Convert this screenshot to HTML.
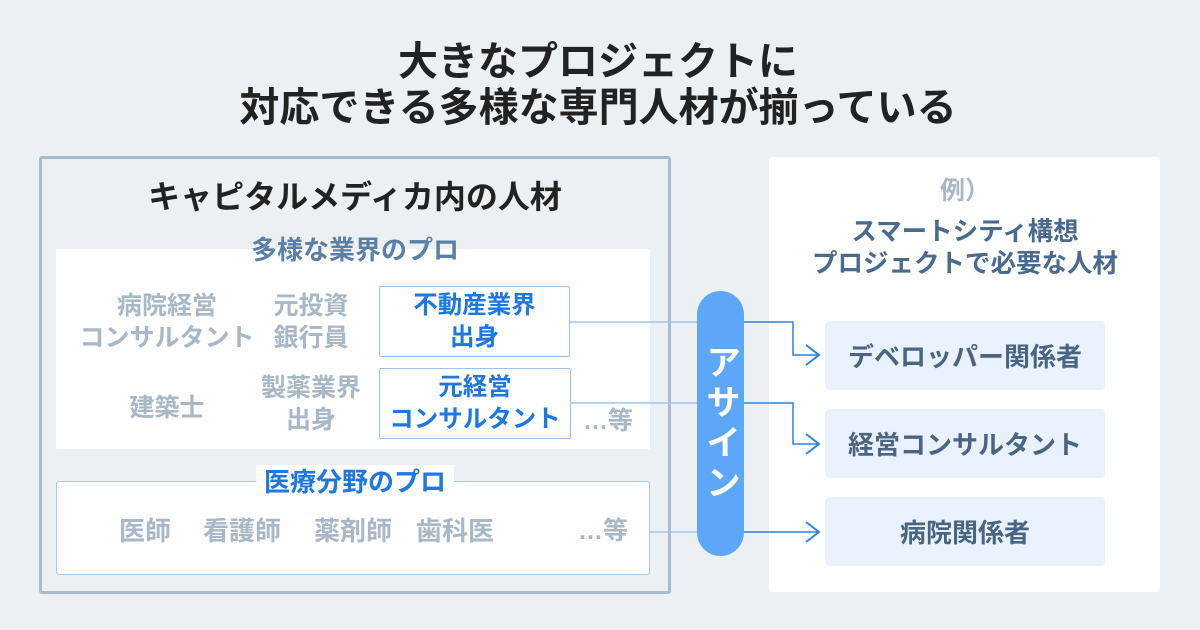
<!DOCTYPE html>
<html><head><meta charset="utf-8"><style>
*{margin:0;padding:0;box-sizing:border-box}
body{width:1200px;height:630px;background:#ecf0f2;position:relative;overflow:hidden;font-family:"Liberation Sans","Noto Sans CJK JP",sans-serif;font-weight:bold}
.a{position:absolute}
.c{position:absolute;text-align:center;white-space:nowrap;transform:translateX(-50%)}
.g{color:#a9b8c6;font-size:25px;line-height:32px;font-weight:bold}
.bx{position:absolute;background:#fff;border:1.5px solid #9cc3ec;border-radius:2px;color:#1f78e0;font-size:24.5px;line-height:32px;text-align:center;display:flex;flex-direction:column;justify-content:center}
.r{position:absolute;left:825px;width:280px;height:69px;background:#e9f2fc;border-radius:4px;color:#4a6582;font-size:26px;display:flex;align-items:center;justify-content:center}
</style></head><body>
<div class="c" style="left:598px;top:39px;font-size:40px;line-height:46px;color:#222">大きなプロジェクトに<br>対応できる多様な専門人材が揃っている</div>

<div class="a" style="left:39px;top:156px;width:632px;height:438px;border:3px solid #a9bccb;border-radius:3px"></div>
<div class="c" style="left:355px;top:177px;font-size:32px;line-height:40px;color:#222">キャピタルメディカ内の人材</div>
<div class="a" style="left:56px;top:249px;width:594px;height:200px;background:#fff;border-radius:2px"></div>
<div class="c" style="left:355px;top:233px;font-size:26px;line-height:34px;color:#5b7fa6">多様な業界のプロ</div>
<div class="c g" style="left:167px;top:290px">病院経営<br>コンサルタント</div>
<div class="c g" style="left:311px;top:290px">元投資<br>銀行員</div>
<div class="c g" style="left:167px;top:392px">建築士</div>
<div class="c g" style="left:311px;top:372px">製薬業界<br>出身</div>
<div class="c g" style="left:608px;top:405px">…等</div>
<div class="bx" style="left:379px;top:286px;width:191px;height:71px">不動産業界<br>出身</div>
<div class="bx" style="left:379px;top:368px;width:192px;height:71px">元経営<br>コンサルタント</div>

<div class="a" style="left:56px;top:481px;width:594px;height:94px;background:#fff;border:1.5px solid #a8c9ef;border-radius:3px"></div>
<div class="c" style="left:355px;top:465px;font-size:26px;line-height:34px;color:#1f78e0;background:#fff;padding:0 8px">医療分野のプロ</div>
<div class="c g" style="left:145px;top:515px;font-size:26px">医師</div>
<div class="c g" style="left:242px;top:515px;font-size:26px">看護師</div>
<div class="c g" style="left:353px;top:515px;font-size:26px">薬剤師</div>
<div class="c g" style="left:455px;top:515px;font-size:26px">歯科医</div>
<div class="c g" style="left:603px;top:515px">…等</div>

<div class="a" style="left:769px;top:157px;width:391px;height:435px;background:#fff;border-radius:3px"></div>
<div class="c" style="left:965px;top:175px;font-size:25px;line-height:32px;color:#a9b8c6">例）</div>
<div class="c" style="left:965px;top:216px;font-size:25.5px;line-height:32px;color:#4a6a8e">スマートシティ構想<br>プロジェクトで必要な人材</div>
<div class="r" style="top:321px">デベロッパー関係者</div>
<div class="r" style="top:409px">経営コンサルタント</div>
<div class="r" style="top:497px">病院関係者</div>

<svg class="a" style="left:0;top:0" width="1200" height="630">
<g fill="none" stroke-width="1.5">
<path d="M570 322H697M570 403H697M650 532H697" stroke="#9ec6ef"/>
<path d="M744 322H793V355H818M744 403H793V444H818M744 532H818" stroke="#2f80e0"/>
<path d="M806 345L819 355L806 365M806 434L819 444L806 454M806 522L819 532L806 542" stroke="#2f80e0" stroke-width="2"/>
</g>
<rect x="697" y="291" width="47" height="265" rx="23.5" fill="#5ea6f7"/>
</svg>
<div class="a" style="left:697px;top:291px;width:47px;height:265px;display:flex;align-items:center;justify-content:center;writing-mode:vertical-rl;color:#fff;font-size:35px;letter-spacing:5px">アサイン</div>
</body></html>
